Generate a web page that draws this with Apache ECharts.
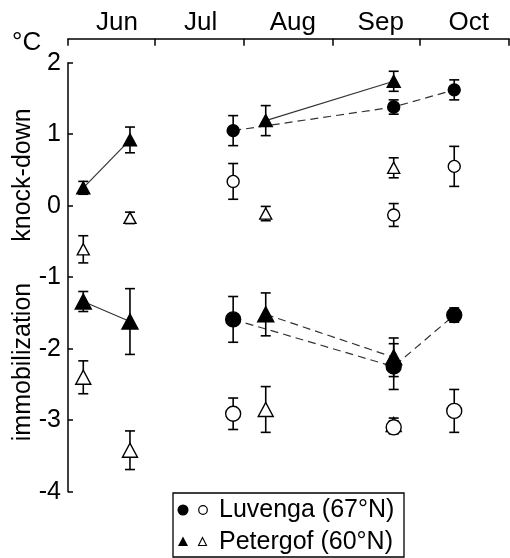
<!DOCTYPE html>
<html>
<head>
<meta charset="utf-8">
<script src="https://cdn.jsdelivr.net/npm/echarts@6/dist/echarts.min.js"></script>
<style>
html,body{margin:0;padding:0;background:#fff;}
#chart{width:510px;height:558px;}
</style>
</head>
<body>
<div id="chart"></div>
<script>
// x values: days counted from 1 June
const months = ['Jun', 'Jul', 'Aug', 'Sep', 'Oct'];
const monthStarts = [0, 30, 61, 92, 122, 153];
const monthLabelDays = [17, 46, 78, 108.5, 139];
const yTicks = [-4, -3, -2, -1, 0, 1, 2];

// Petergof (60°N) sampling days, Luvenga (67°N) sampling days
const petDays = [5.3, 21.5, 68.6, 113];
const luvDays = [57.3, 113, 134];

// knock-down (°C), filled = one acclimation group, open = the other
const petKnockFilled    = [0.25, 0.92, 1.19, 1.74];
const petKnockFilledErr = [0.09, 0.18, 0.21, 0.14];
const petKnockOpen      = [-0.61, -0.17, -0.11, 0.53];
const petKnockOpenErr   = [0.19, 0.08, 0.10, 0.14];
const luvKnockFilled    = [1.05, 1.38, 1.62];
const luvKnockFilledErr = [0.21, 0.10, 0.14];
const luvKnockOpen      = [0.34, -0.13, 0.55];
const luvKnockOpenErr   = [0.25, 0.16, 0.28];

// immobilization (°C)
const petImmobFilled    = [-1.34, -1.62, -1.52, -2.12];
const petImmobFilledErr = [0.14, 0.46, 0.30, 0.27];
const petImmobOpen      = [-2.40, -3.42, -2.85, -3.06];
const petImmobOpenErr   = [0.23, 0.27, 0.32, 0.09];
const luvImmobFilled    = [-1.59, -2.25, -1.53];
const luvImmobFilledErr = [0.32, 0.32, 0.10];
const luvImmobOpen      = [-2.91, -3.10, -2.87];
const luvImmobOpenErr   = [0.22, 0.09, 0.30];

const FONT = '"Liberation Sans", Arial, sans-serif';

function pts(xs, ys, idx) {
  const out = [];
  (idx || xs.map((_, i) => i)).forEach(i => out.push([xs[i], ys[i]]));
  return out;
}
function errData(xs, ys, es) { return xs.map((x, i) => [x, ys[i], es[i]]); }

function errSeries(xs, ys, es) {
  return {
    type: 'custom', z: 3,
    encode: { x: 0, y: 1 },
    data: errData(xs, ys, es),
    renderItem: function (params, api) {
      const x = api.value(0), y = api.value(1), e = api.value(2);
      const top = api.coord([x, y + e]);
      const bot = api.coord([x, y - e]);
      const hw = 5;
      const st = { stroke: '#000', lineWidth: 1.6 };
      return {
        type: 'group',
        children: [
          { type: 'line', shape: { x1: top[0], y1: top[1], x2: bot[0], y2: bot[1] }, style: st },
          { type: 'line', shape: { x1: top[0] - hw, y1: top[1], x2: top[0] + hw, y2: top[1] }, style: st },
          { type: 'line', shape: { x1: bot[0] - hw, y1: bot[1], x2: bot[0] + hw, y2: bot[1] }, style: st }
        ]
      };
    }
  };
}
function markSeries(xs, ys, symbol, size, filled) {
  return {
    type: 'scatter', z: 5,
    symbol: symbol, symbolSize: size,
    data: pts(xs, ys),
    itemStyle: { color: filled ? '#000' : '#fff', borderColor: '#000', borderWidth: 1.4, opacity: 1 },
    emphasis: { disabled: true }
  };
}
function lineSeries(xs, ys, idx, dashed) {
  return {
    type: 'line', z: 2, symbol: 'none', silent: true,
    data: pts(xs, ys, idx),
    lineStyle: { color: '#333', width: 1.2, type: dashed ? [8, 5] : 'solid' }
  };
}

const series = [
  // connecting lines
  lineSeries(petDays, petKnockFilled, [0, 1], false),
  lineSeries(petDays, petKnockFilled, [2, 3], false),
  lineSeries(luvDays, luvKnockFilled, [0, 1, 2], true),
  lineSeries(petDays, petImmobFilled, [0, 1], false),
  lineSeries(petDays, petImmobFilled, [2, 3], true),
  lineSeries(luvDays, luvImmobFilled, [0, 1, 2], true),
  // error bars
  errSeries(petDays, petKnockFilled, petKnockFilledErr),
  errSeries(petDays, petKnockOpen, petKnockOpenErr),
  errSeries(luvDays, luvKnockFilled, luvKnockFilledErr),
  errSeries(luvDays, luvKnockOpen, luvKnockOpenErr),
  errSeries(petDays, petImmobFilled, petImmobFilledErr),
  errSeries(petDays, petImmobOpen, petImmobOpenErr),
  errSeries(luvDays, luvImmobFilled, luvImmobFilledErr),
  errSeries(luvDays, luvImmobOpen, luvImmobOpenErr),
  // markers
  markSeries(petDays, petKnockOpen, 'triangle', [12, 11], false),
  markSeries(luvDays, luvKnockOpen, 'circle', 12, false),
  markSeries(petDays, petImmobOpen, 'triangle', [15, 14], false),
  markSeries(luvDays, luvImmobOpen, 'circle', 15, false),
  markSeries(luvDays, luvKnockFilled, 'circle', 12, true),
  markSeries(petDays, petKnockFilled, 'triangle', [13, 12], true),
  markSeries(luvDays, luvImmobFilled, 'circle', 15, true),
  markSeries(petDays, petImmobFilled, 'triangle', [16, 15], true)
];

const chart = echarts.init(document.getElementById('chart'), null, { renderer: 'canvas' });
chart.setOption({
  animation: false,
  backgroundColor: '#fff',
  textStyle: { fontFamily: FONT },
  grid: { left: 68, right: 1, top: 62.7, bottom: 66.3, containLabel: false },
  xAxis: {
    type: 'value', position: 'top', offset: 24,
    min: monthStarts[0], max: monthStarts[monthStarts.length - 1],
    axisLine: { show: true, onZero: false, lineStyle: { color: '#000', width: 1.5 } },
    axisTick: { show: true, inside: true, length: 7, customValues: monthStarts, lineStyle: { color: '#000', width: 1.5 } },
    axisLabel: {
      show: true, customValues: monthLabelDays, margin: 3,
      fontSize: 26, color: '#000', fontFamily: FONT,
      formatter: function (v) { const i = monthLabelDays.indexOf(v); return i >= 0 ? months[i] : ''; }
    },
    splitLine: { show: false }
  },
  yAxis: {
    type: 'value', min: yTicks[0], max: yTicks[yTicks.length - 1], interval: 1,
    axisLine: { show: true, onZero: false, lineStyle: { color: '#000', width: 1.5 } },
    axisTick: { show: true, inside: true, length: 5, lineStyle: { color: '#000', width: 1.5 } },
    axisLabel: { fontSize: 25, color: '#000', margin: 7, fontFamily: FONT },
    splitLine: { show: false }
  },
  graphic: [
    { type: 'text', left: 12, top: 30, style: { text: '°C', fontSize: 26, fill: '#000', fontFamily: FONT } },
    { type: 'text', x: 23, y: 175, rotation: Math.PI / 2,
      style: { text: 'knock-down', fontSize: 25, fill: '#000', fontFamily: FONT, align: 'center', verticalAlign: 'middle' } },
    { type: 'text', x: 23, y: 362, rotation: Math.PI / 2,
      style: { text: 'immobilization', fontSize: 25, fill: '#000', fontFamily: FONT, align: 'center', verticalAlign: 'middle' } },
    // legend box
    { type: 'rect', shape: { x: 173, y: 493, width: 231, height: 64 }, style: { fill: '#fff', stroke: '#000', lineWidth: 1.3 }, z: 10 },
    { type: 'circle', shape: { cx: 183, cy: 510, r: 5.5 }, style: { fill: '#000' }, z: 11 },
    { type: 'circle', shape: { cx: 203, cy: 510, r: 4.3 }, style: { fill: '#fff', stroke: '#000', lineWidth: 1.2 }, z: 11 },
    { type: 'polygon', shape: { points: [[183, 536.5], [178, 546], [188, 546]] }, style: { fill: '#000' }, z: 11 },
    { type: 'polygon', shape: { points: [[202.5, 537.5], [198.5, 545.5], [206.5, 545.5]] }, style: { fill: '#fff', stroke: '#000', lineWidth: 1.1 }, z: 11 },
    { type: 'text', x: 219, y: 510, z: 11, style: { text: 'Luvenga (67°N)', fontSize: 25, fill: '#000', fontFamily: FONT, verticalAlign: 'middle' } },
    { type: 'text', x: 219, y: 542, z: 11, style: { text: 'Petergof (60°N)', fontSize: 25, fill: '#000', fontFamily: FONT, verticalAlign: 'middle' } }
  ],
  series: series
});
</script>
</body>
</html>
